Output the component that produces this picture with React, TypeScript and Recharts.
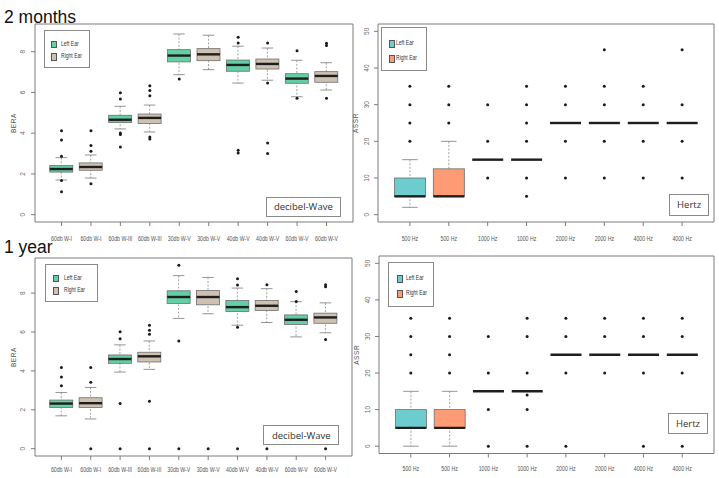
import React from "react";
import { ComposedChart, Bar, Scatter, XAxis, YAxis, Legend, ReferenceArea } from "recharts";

const beraLabels = ["60db W-I", "60db W-I", "60db W-III", "60db W-III", "30db W-V", "30db W-V", "40db W-V", "40db W-V", "60db W-V", "60db W-V"];
const assrLabels = ["500 Hz", "500 Hz", "1000 Hz", "1000 Hz", "2000 Hz", "2000 Hz", "4000 Hz", "4000 Hz"];
const earNames = ["Left Ear", "Right Ear"];
const beraColors = ["#62cfa4", "#cfc1b1"];
const assrColors = ["#6dcccd", "#fd9b74"];
const beraTicks = [0, 2, 4, 6, 8];
const assrTicks = [0, 10, 20, 30, 40, 50];

// 2 months, BERA
const bera2mLow = [1.7, 1.8, 4.21, 4.06, 6.87, 7.12, 6.46, 6.6, 5.79, 6.12];
const bera2mQ1 = [2.09, 2.18, 4.52, 4.48, 7.5, 7.56, 7.04, 7.15, 6.45, 6.5];
const bera2mMed = [2.24, 2.34, 4.66, 4.75, 7.81, 7.87, 7.35, 7.4, 6.68, 6.81];
const bera2mQ3 = [2.41, 2.54, 4.88, 4.94, 8.1, 8.15, 7.59, 7.64, 6.92, 7.02];
const bera2mHigh = [2.8, 2.93, 5.32, 5.38, 8.87, 8.81, 8.27, 8.18, 7.58, 7.46];
const bera2mOut = [[4.12, 3.67, 2.87, 1.68, 1.13], [4.12, 3.4, 3.11, 1.52], [5.99, 5.68, 4.01, 3.93, 3.32], [6.33, 6.09, 5.84, 3.81, 3.72], [6.66], [], [8.71, 8.43, 3.16, 3.03], [8.43, 6.46, 3.52, 3.0], [8.05, 5.71], [8.41, 8.31, 5.71]];

// 1 year, BERA
const bera1yLow = [1.69, 1.53, 3.94, 4.08, 6.7, 6.94, 6.35, 6.49, 5.75, 5.96];
const bera1yQ1 = [2.12, 2.12, 4.39, 4.46, 7.47, 7.4, 7.06, 7.11, 6.39, 6.45];
const bera1yMed = [2.32, 2.34, 4.61, 4.75, 7.8, 7.8, 7.28, 7.35, 6.63, 6.75];
const bera1yQ3 = [2.5, 2.62, 4.82, 4.96, 8.12, 8.14, 7.62, 7.62, 6.88, 6.97];
const bera1yHigh = [2.89, 3.15, 5.34, 5.54, 8.9, 8.81, 8.26, 8.23, 7.56, 7.5];
const bera1yOut = [[4.17, 3.68, 3.24], [4.17, 3.41, 0], [6.02, 5.66, 2.32, 0], [6.35, 6.09, 5.89, 2.44, 0], [9.43, 5.54, 0], [0], [8.74, 8.42, 6.25, 0], [8.43, 0], [8.09, 7.57], [8.43, 8.33, 5.61, 0]];

// 2 months, ASSR
const assr2mLow = [2, 5, 15, 15, 25, 25, 25, 25];
const assr2mQ1 = [5, 5, 15, 15, 25, 25, 25, 25];
const assr2mMed = [5, 5, 15, 15, 25, 25, 25, 25];
const assr2mQ3 = [10, 12.5, 15, 15, 25, 25, 25, 25];
const assr2mHigh = [15, 20, 15, 15, 25, 25, 25, 25];
const assr2mOut = [[20, 25, 30, 35], [25, 30, 35], [10, 20, 30], [5, 10, 20, 25, 30, 35], [10, 20, 30, 35], [10, 20, 30, 35, 45], [10, 20, 30, 35], [10, 20, 30, 45]];

// 1 year, ASSR
const assr1yLow = [0, 0, 15, 15, 25, 25, 25, 25];
const assr1yQ1 = [5, 5, 15, 15, 25, 25, 25, 25];
const assr1yMed = [5, 5, 15, 15, 25, 25, 25, 25];
const assr1yQ3 = [10, 10, 15, 15, 25, 25, 25, 25];
const assr1yHigh = [15, 15, 15, 15, 25, 25, 25, 25];
const assr1yOut = [[20, 25, 30, 35], [20, 25, 30, 35], [0, 10, 20, 30], [0, 10, 14, 20, 30, 35], [0, 20, 30, 35], [20, 30, 35], [0, 20, 30, 35], [0, 20, 30, 35]];

const sans = "'Liberation Sans', Arial, sans-serif";
const frame = "#7c7c7c";

function buildRows(lo: number[], q1: number[], med: number[], q3: number[], hi: number[]) {
  return lo.map((_, i) => ({ x: i + 1, lo: lo[i], q1: q1[i], med: med[i], q3: q3[i], hi: hi[i], ear: i % 2 }));
}

function buildOutliers(out: number[][]) {
  return out.flatMap((vals, i) => vals.map((v) => ({ x: i + 1, v })));
}

const whiskerShape = (p: any) => {
  const top = Math.min(p.y, p.y + p.height);
  const bottom = Math.max(p.y, p.y + p.height);
  const cx = p.x + p.width / 2;
  const cap = p.width / 4;
  if (bottom - top < 0.5) return <g />;
  return (
    <g>
      <line x1={cx} x2={cx} y1={top} y2={bottom} stroke="#8c8c8c" strokeWidth={0.8} strokeDasharray="2 1.6" />
      <line x1={cx - cap} x2={cx + cap} y1={top} y2={top} stroke="#7a7a7a" strokeWidth={0.8} />
      <line x1={cx - cap} x2={cx + cap} y1={bottom} y2={bottom} stroke="#7a7a7a" strokeWidth={0.8} />
    </g>
  );
};

const makeBoxShape = (colors: string[]) => (p: any) => {
  const top = Math.min(p.y, p.y + p.height);
  const h = Math.abs(p.height);
  if (h < 0.5) return <g />;
  return <rect x={p.x} y={top} width={p.width} height={h} fill={colors[p.payload.ear]} stroke="#6e6e6e" strokeWidth={0.8} />;
};

const medianShape = (p: any) => (
  <line x1={p.x} x2={p.x + p.width} y1={p.y} y2={p.y} stroke="#1e1e1e" strokeWidth={2.4} />
);

const dotShape = (p: any) => <circle cx={p.cx} cy={p.cy} r={1.5} fill="#1a1a1a" />;

const YTick = (p: any) => (
  <text x={p.x} y={p.y} transform={`rotate(-90 ${p.x} ${p.y})`} textAnchor="middle" fontSize={6.5} fill="#6a6a6a" fontFamily={sans}>
    {p.payload.value}
  </text>
);

// condensed tick labels, like R's small axis text
const makeXTick = (labels: string[]) => (p: any) => (
  <g transform={`translate(${p.x},${p.y})`}>
    <text transform="scale(0.8,1)" textAnchor="middle" dy="0.71em" fontSize={6.5} fill="#555" fontFamily={sans}>
      {labels[p.payload.value - 1]}
    </text>
  </g>
);

type LegendBox = { left: number; top: number; width: number; height: number; rows: number[]; swatch: number; text: number };

function EarLegend({ colors, box }: { colors: string[]; box: LegendBox }) {
  return (
    <div style={{ position: "relative", width: box.width, height: box.height, border: "1px solid #8a8a8a", background: "#fff", boxSizing: "border-box" }}>
      {earNames.map((name, i) => (
        <div key={name}>
          <div style={{ position: "absolute", left: box.swatch, top: box.rows[i] - 3, width: 4, height: 5.5, background: colors[i], border: "0.6px solid #555" }} />
          <div style={{ position: "absolute", left: box.text, top: box.rows[i] - 4, fontSize: 6.3, lineHeight: "8px", color: "#333", fontFamily: sans, whiteSpace: "nowrap", transform: "scaleX(0.8)", transformOrigin: "left center" }}>{name}</div>
        </div>
      ))}
    </div>
  );
}

type PanelProps = {
  left: number; top: number; width: number; height: number;
  margin: { top: number; right: number; bottom: number; left: number };
  yAxisWidth: number; xAxisHeight: number; xTickMargin: number; yTickMargin: number; yLabelOffset: number;
  rows: any[]; outs: any[]; labels: string[]; colors: string[];
  yDomain: [number, number]; yTicks: number[]; yLabel: string; barSize: number; legend: LegendBox;
};

function Panel(p: PanelProps) {
  const n = p.labels.length;
  const xDomain: [number, number] = [0.5 - 0.04 * n, n + 0.5 + 0.04 * n];
  const xTicks = p.labels.map((_, i) => i + 1);
  const hiddenAxis = (id: string) => <XAxis key={id} xAxisId={id} type="number" dataKey="x" domain={xDomain} ticks={xTicks} allowDataOverflow hide />;
  return (
    <div style={{ position: "absolute", left: p.left, top: p.top }}>
      <ComposedChart width={p.width} height={p.height} data={p.rows} margin={p.margin}>
        <XAxis
          type="number"
          dataKey="x"
          domain={xDomain}
          ticks={xTicks}
          interval={0}
          allowDataOverflow
          height={p.xAxisHeight}
          tick={makeXTick(p.labels)}
          tickSize={4}
          tickMargin={p.xTickMargin}
          axisLine={false}
          tickLine={{ stroke: frame }}
        />
        {hiddenAxis("w")}
        {hiddenAxis("b")}
        {hiddenAxis("m")}
        <YAxis
          type="number"
          domain={p.yDomain}
          ticks={p.yTicks}
          interval={0}
          allowDataOverflow
          width={p.yAxisWidth}
          tick={<YTick />}
          tickSize={4}
          tickMargin={p.yTickMargin}
          axisLine={false}
          tickLine={{ stroke: frame }}
          label={{ value: p.yLabel, angle: -90, position: "insideLeft", offset: p.yLabelOffset, style: { textAnchor: "middle", fontSize: 6.5, fill: "#555", fontFamily: sans, letterSpacing: 0.6 } }}
        />
        <ReferenceArea x1={xDomain[0]} x2={xDomain[1]} y1={p.yDomain[0]} y2={p.yDomain[1]} fill="none" stroke={frame} strokeWidth={1} ifOverflow="visible" />
        <Bar xAxisId="w" dataKey={(d: any) => [d.lo, d.hi]} barSize={p.barSize} shape={whiskerShape} isAnimationActive={false} />
        <Bar xAxisId="b" dataKey={(d: any) => [d.q1, d.q3]} barSize={p.barSize} shape={makeBoxShape(p.colors)} isAnimationActive={false} />
        <Bar xAxisId="m" dataKey={(d: any) => [d.med, d.med]} barSize={p.barSize} shape={medianShape} isAnimationActive={false} />
        <Scatter data={p.outs} dataKey="v" shape={dotShape} isAnimationActive={false} />
        <Legend
          layout="horizontal"
          verticalAlign="middle"
          align="center"
          content={() => <EarLegend colors={p.colors} box={p.legend} />}
          wrapperStyle={{ left: p.legend.left, top: p.legend.top, width: p.legend.width, height: p.legend.height }}
        />
      </ComposedChart>
    </div>
  );
}

const noteStyle = (left: number, top: number, width: number, height: number): React.CSSProperties => ({
  position: "absolute", left, top, width, height, border: "1px solid #8a8a8a", background: "#fff", boxSizing: "border-box",
  display: "flex", alignItems: "center", justifyContent: "center", fontFamily: "'Open Sans', 'Liberation Sans', sans-serif", fontSize: 9.5, color: "#333",
});

const titleStyle = (top: number): React.CSSProperties => ({
  position: "absolute", left: 4, top, fontFamily: sans, fontSize: 17.5, lineHeight: "20px", color: "#111",
});

export default function App() {
  return (
    <div style={{ position: "absolute", left: 0, top: 0, width: 719, height: 478, background: "#fff", overflow: "hidden" }}>
      <Panel
        left={0} top={0} width={360} height={250}
        margin={{ top: 24, right: 7, bottom: 0, left: 0 }}
        yAxisWidth={35} xAxisHeight={28} xTickMargin={10} yTickMargin={6} yLabelOffset={14}
        rows={buildRows(bera2mLow, bera2mQ1, bera2mMed, bera2mQ3, bera2mHigh)}
        outs={buildOutliers(bera2mOut)}
        labels={beraLabels} colors={beraColors}
        yDomain={[-0.36, 9.36]} yTicks={beraTicks} yLabel="BERA" barSize={23}
        legend={{ left: 44, top: 30, width: 46, height: 38, rows: [12.7, 25.3], swatch: 5.5, text: 16 }}
      />
      <Panel
        left={345} top={0} width={374} height={250}
        margin={{ top: 24, right: 5, bottom: 0, left: 0 }}
        yAxisWidth={33} xAxisHeight={28} xTickMargin={10} yTickMargin={5} yLabelOffset={11}
        rows={buildRows(assr2mLow, assr2mQ1, assr2mMed, assr2mQ3, assr2mHigh)}
        outs={buildOutliers(assr2mOut)}
        labels={assrLabels} colors={assrColors}
        yDomain={[-2, 52]} yTicks={assrTicks} yLabel="ASSR" barSize={31}
        legend={{ left: 36, top: 27, width: 46, height: 44, rows: [15, 30], swatch: 7, text: 14 }}
      />
      <Panel
        left={0} top={240} width={360} height={238}
        margin={{ top: 18, right: 8, bottom: 0, left: 0 }}
        yAxisWidth={35} xAxisHeight={22} xTickMargin={7} yTickMargin={6} yLabelOffset={14}
        rows={buildRows(bera1yLow, bera1yQ1, bera1yMed, bera1yQ3, bera1yHigh)}
        outs={buildOutliers(bera1yOut)}
        labels={beraLabels} colors={beraColors}
        yDomain={[-0.377, 9.807]} yTicks={beraTicks} yLabel="BERA" barSize={23}
        legend={{ left: 45, top: 24, width: 53, height: 38, rows: [12.7, 25.3], swatch: 6.5, text: 18 }}
      />
      <Panel
        left={345} top={240} width={374} height={238}
        margin={{ top: 16, right: 5, bottom: 0, left: 0 }}
        yAxisWidth={34} xAxisHeight={24.5} xTickMargin={8.5} yTickMargin={5} yLabelOffset={12}
        rows={buildRows(assr1yLow, assr1yQ1, assr1yMed, assr1yQ3, assr1yHigh)}
        outs={buildOutliers(assr1yOut)}
        labels={assrLabels} colors={assrColors}
        yDomain={[-2, 52]} yTicks={assrTicks} yLabel="ASSR" barSize={31}
        legend={{ left: 43, top: 22, width: 46, height: 45, rows: [15.3, 30.3], swatch: 7.7, text: 17 }}
      />
      <div style={titleStyle(7)}>2 months</div>
      <div style={titleStyle(237)}>1 year</div>
      <div style={noteStyle(265.7, 196.7, 75.3, 20.6)}>decibel-Wave</div>
      <div style={noteStyle(263.3, 425, 76, 20)}>decibel-Wave</div>
      <div style={noteStyle(669.3, 194.3, 39.7, 21.4)}>Hertz</div>
      <div style={noteStyle(668.3, 413.3, 39.4, 21)}>Hertz</div>
    </div>
  );
}
